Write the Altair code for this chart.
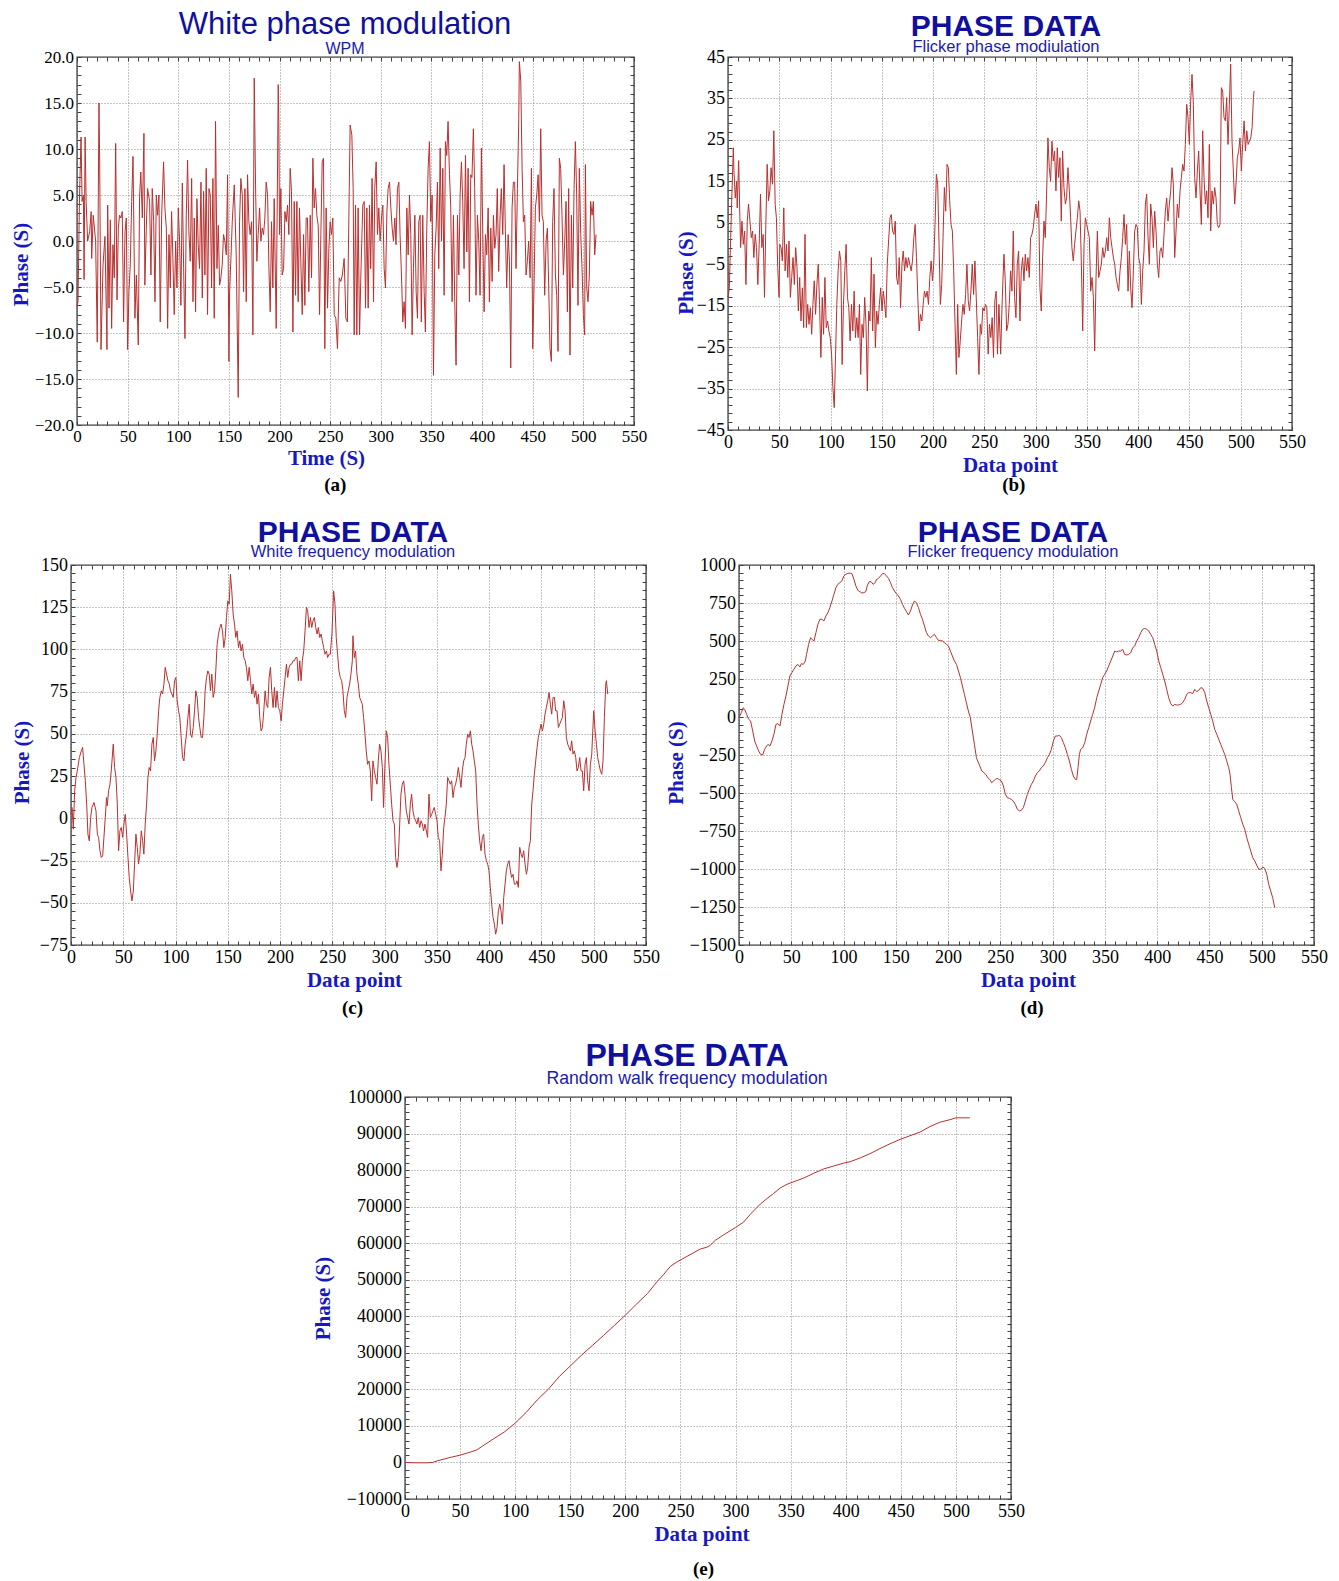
import altair as alt
import pandas as pd

# ---------------- data ----------------
a_x = [0,1,2.5,4,5,6.3,7,8,9,10.5,12.5,14,14.5,16,18.4,20,21.7,22.4,23.7,25.7,27.6,29.6,30.3,31.6,32.9,34.2,35.5,36.8,38.2,39.5,40.8,42,43.4,44.7,46,47.4,48.7,50,51.3,52.6,54,55.3,57.2,58.6,60.5,61.8,63,64.5,66.1,67,68.4,69.7,71.7,73,74.3,75.7,77,78.3,79.6,80.9,82.2,83.6,85.5,86.8,88.2,89.5,90.8,92.1,93.4,94.7,96,97.4,98.7,100,101.3,102.6,104,105.3,106.6,107.9,109.2,110.5,111.8,113.2,114.5,115.8,117.1,118.4,119.7,121,122.4,123.7,125,126.3,127.6,128.9,130.3,131.6,132.9,134.2,135.5,136.8,138.2,139.5,140.8,142.1,143.4,144.7,146,147.4,148.7,150,150.7,152,153.3,155.3,157.2,159.2,160.5,161.8,163.2,164.5,165.8,167.1,168.4,169.7,171,172.4,173.7,175,176.3,177.6,178.9,180.3,181.6,182.9,184.2,185.5,186.8,188.2,189.5,190.8,192.1,193.4,194.7,196.7,198.7,199.3,200,201.3,202.6,204,205.3,206.6,207.9,209.2,210.5,211.8,213.2,214.5,215.8,217.1,218.4,219.7,221,222.4,223.7,225,226.3,227.6,228.9,230.3,231.6,232.9,234.2,235.5,236.8,238.2,239.5,240.8,242.1,243.4,244.7,246,247.4,248.7,250,251.3,252.6,254,255.6,257.2,258.9,260.5,262,263.8,265.5,267,268.8,269.7,271.4,272.7,273.7,275,276.3,277.6,279,280.3,282.2,283.6,284.9,286.2,287.5,288.8,290,291.4,292.8,294,295.4,296.7,298,299.3,300.7,302,303.3,304.6,306,307.2,308.6,309.9,311.2,312.5,313.8,315,316.4,317.8,319,320.4,321.7,323,324.3,325.7,327,328.3,329.6,330.9,332.2,333.6,334.9,336.2,337.5,338.8,340,341.4,342.8,344,345.4,346.7,348,349.3,350.7,352,353.3,354.6,355.9,357.2,358.6,359.9,361.2,362.5,363.8,365.1,366.4,367.8,369,370.4,371.7,373,374.3,375.7,377,378.3,379.6,380.9,382.2,383.6,384.9,386.2,387.5,388.8,390,391.4,392.7,394,395.4,396.7,398,399.3,400.7,402,403.3,404.6,406,407.2,408.6,409.9,411.2,412.5,413.8,415,416.4,417.8,419,420.4,421.7,423,424.3,425.7,427,428.3,429.6,430.9,432.2,433.5,434.9,436.2,436.8,438.2,439.5,440.8,442.1,443.4,444.7,446,447.4,448.7,450,451.3,452.6,454,455.3,456.6,457.9,459.2,460.5,461.8,463.2,464.5,465.8,467.1,468.4,469.7,471,472.4,473.7,475,476.3,477.6,478.9,480.3,481.6,482.9,484.2,485.5,486.8,488.2,489.5,490.8,492.1,493.4,494.7,496,497.4,498.7,500,501.3,502,503.3,504.6,505.9,507.2,508.6,509.9,511.2,512.5]
a_y = [-7.2,-6.6,5,11.3,4.3,5,-4.2,11.3,4.3,0,1,3.2,-1.9,2.8,0,-11,15,8.6,-11.8,-2.6,0.5,-11.8,3.9,-7.3,2.3,-9.5,-0.4,-4,10.6,-6.4,1.4,2.8,2.5,3.2,-8.8,1,2.5,-11.8,-5.5,-2.6,4.3,9.2,-8.4,-3.7,-11.3,4.8,7.5,2.5,11.7,-4.8,1.4,5.7,4.3,-3.7,5.7,2.1,-6.6,5,2.8,5,-8.8,2.8,8.6,3.6,1.4,-9.5,0.7,-5.1,3.2,-1.9,-8,0,-5.1,3.6,0,-7,6.3,-3,-10.6,2.8,8.8,1,-2.2,6.8,-6.6,2.5,-7.7,4.6,-0.4,-3,6.4,-6.2,5.4,-3.7,7.9,-8,5.7,5,-5.1,6.8,-8.4,13,-3,1.7,-4.8,-4,-2.6,0.7,0,-1.5,7.2,-13.1,-5.5,-1.9,2.1,6.1,-1.5,-17,2.1,6.8,5,-5.5,5.7,-6.6,7.2,2.1,0.7,2.1,-10.2,17.7,6.1,-2.2,0.7,3.6,0,1.4,0.7,2.5,6.4,5,-3,-7.7,2.1,-5.1,4.6,-9.5,17,12.6,0.7,5.7,-3.7,-3,3.2,2.1,3.9,0.7,7.9,5.4,-9.9,4.3,-5.9,4.3,-6.6,3.6,-2.2,-8,0.7,-7,2.5,2.5,-5.5,2.8,-4,9,3.6,5.7,2.8,1.7,-8,0.7,8.6,9,-11.7,3.6,-7.3,-0.8,2.1,0.7,2.5,-8,-8.4,-11.7,-4,-4.4,-3.7,-1.9,-8.4,-8.8,5.4,12.6,11.5,5.7,-10.2,3.9,-10.2,3.6,-10.2,-3.7,3.9,4.3,-7.3,3.6,-7.3,3.9,-3,6.8,-6.6,5.7,8.6,0.7,3.6,0,2.5,3.9,-3,-5.1,3.2,5.7,6.4,3.6,1.4,0,2.5,-0.4,5.7,6.4,0.7,-3.7,-8.8,-6.6,-9.5,3.6,-1.5,5,0.7,-10.2,-3,2.8,-5.5,-8.4,2.1,2.8,-8.8,2.8,-5.5,-9.9,1.4,7.9,10.8,2.1,5,-14.6,-1.5,1.4,6.4,-3,10.1,0,7.9,-5.9,10.8,9.3,13,7.2,3.9,-6.6,2.8,-6.6,-13.5,2.8,-3.7,5,8.6,4.3,-3,9.3,-1.2,7.9,-6.6,7.2,6.9,12.2,5.7,-5.9,2.8,0,-5.9,10.1,0.7,-7.7,0.7,-1.5,3.6,-6.6,1.4,-4.4,2.8,-0.8,0.7,5.7,-3.3,2.8,5.7,0.7,8.3,1,-5.1,0.7,-2.2,-13.8,3.6,6.4,6.4,-3,5.7,13.3,19.5,17.4,7.9,2.1,2.8,-3.7,-2.2,0,-4,7.9,-11.7,-4.8,3.6,5,7.2,2.1,12.2,2.8,2.1,-5.9,0,1.4,-5.1,-11.7,-13.1,2.1,5.7,-3.7,-5.9,-12,9,7.9,2.8,-3.7,0,4.3,-7.7,5.7,-12.4,2.8,-5.1,5.7,10.8,5,-7,7.9,0.7,-3,-8,-10.2,8.3,-5.1,-6.6,-3.7,4.3,2.8,4.3,-1.5,0.7]

b_x = [0,1.3,2.6,3.9,5.2,5.8,7.1,8.4,9,10.4,11.6,12.3,13.6,14.9,16.2,17.5,18.8,20,21.4,22.7,24,25.2,26.5,27.8,29.1,30.4,31.7,33,34.3,35.6,36.9,38.2,39.5,40.8,42,43.4,44.7,46,47.2,48.5,49.8,50.5,51.8,53,54.4,55.7,57,58.3,59.5,60.8,62.1,63.4,64.7,66,67.3,68.6,69.9,71.2,72.5,73.8,75.1,76.4,77.7,79,80.3,81.6,82.8,84.1,85.4,86.7,88,89.3,90.6,91.9,93.2,94.5,95.8,97.1,98.4,99.7,101,102.3,103.6,104.9,106.1,107.4,108.7,110,111.3,112.6,113.9,115.2,116.5,117.8,119.1,120.4,121.7,123,124.3,125.6,126.9,128.2,129.4,130.7,132,133.3,134.6,135.9,137.2,138.5,139.8,141.1,142.4,143.7,145,146.3,147.6,148.9,150.2,151.5,152.8,154,155.3,156.6,158,159.2,160.5,161.8,163.1,164.4,165.7,167,168.3,169.6,170.9,172.2,173.5,174.8,176,177.3,178.6,179.9,181.2,182.5,183.8,185.1,186.4,187.7,189,190.3,191.6,192.9,194.2,195.5,196.8,198.1,199.4,200.6,201.9,203.2,204.5,205.8,207.1,208.4,209.7,211,212.3,213.6,214.9,216.2,217.5,218.8,220.1,221.4,222.7,224,225.2,226.5,227.8,229.1,230.4,231.7,233,234.3,235.6,236.9,238.2,239.5,240.8,242.1,243.4,244.7,246,247.2,248.5,249.8,251.1,252.4,253.7,255,256.3,257.6,258.9,260.2,261.5,262.8,264.2,265.9,267.5,269.1,270.4,271.7,273,274.3,275.6,276.9,278.2,279.5,280.8,282.1,283.4,284.7,286,287.3,288.6,289.9,291.2,292.5,293.8,295.1,296.4,297.7,299,300.3,301.6,302.9,304.2,305.5,306.8,308.1,309.4,310.7,312,313.3,314.6,315.9,317.2,318.5,319.8,321.1,322.4,323.7,325,326.3,327.6,329,330.2,331.5,332.9,334.1,335.4,336.7,338,339.3,340.7,342,343.3,344.6,345.9,347.2,348.5,349.8,351.1,352.4,353.7,355,356.3,357.6,358.9,360.2,361.5,362.8,364.1,365.4,366.7,368,369.3,370.6,371.9,373.2,374.5,375.8,377.1,378.4,379.7,381,382.3,383.6,384.9,386.2,387.5,388.8,390.1,391.4,392.7,394,395.3,396.6,397.9,399.2,400.5,401.8,403.1,404.4,405.7,407,408.3,409.6,410.9,412.2,413.5,414.8,416.1,417.4,418.7,420,421.3,422.6,423.9,425.2,426.5,427.8,429.1,430.4,431.7,433,434.3,435.6,436.9,438.2,439.5,440.8,442.1,443.4,444.7,446,447.3,448.6,449.9,451.2,452.5,453.8,455.1,456.4,457.7,459,460.3,461.6,462.9,464.2,465.5,466.8,468.1,469.4,470.7,472,473.3,474.6,475.9,477.2,478.5,479.8,481.1,482.4,483.7,485,486.3,487.6,488.9,490.2,491.5,492.8,494.1,495.4,496.7,498,499.3,500.6,501.9,503.3,504.6,505.9,507.2,508.5,509.8,511.1,512.4,513]
b_y = [-13,-10.7,1.4,12.7,23.1,17.5,11,15,8.6,20,6.2,-1,5.4,-0.2,3,-9.9,5.4,9.5,5.4,1.4,3,-3.4,2.2,-1,-9.9,-0.2,11.9,-1,2.2,-13,4.6,19.1,10.3,12.7,18.3,14.3,27.2,9.5,6.2,-5.8,-13,-0.2,-1,-4.2,8.6,-6.6,-0.2,-8.2,0.6,-13,-8.2,-3.4,-9.9,-1,-5.8,-16.3,-8.2,-18.7,-10.7,-20.3,2.2,-20.3,-14.7,-19.5,-15.5,-21.9,-14.7,-9,-17.1,-9.9,-5,-14.7,-27.5,-13,-21.9,-8.2,-20.3,-18.7,-21.1,-22.7,-26.7,-34.8,-39.6,-26.7,-14.7,-6.6,-1.8,-4.2,-29.2,-14.7,-6.6,-0.2,-13,-15.5,-23.5,-14.7,-21.1,-11.5,-22.7,-17.9,-22.7,-14.7,-31.6,-19.5,-22.7,-13,-19.5,-35.6,-16.3,-18.7,-3.4,-21.1,-7.4,-25.1,-16.3,-19.5,-14.7,-10.7,-16.3,-11.5,-14.7,-17.9,-5,0.6,6.2,7,3,2.2,5.4,-8.2,-9.9,-3.4,-15.5,-5,-1.8,-6.6,-3.4,-5.8,-3.4,-5,-6.6,-4.2,1.4,4.6,-3.4,-13,-21.1,-17.1,-18.7,-14.7,-11.5,-13,-11.5,-14.7,-8.2,-4.2,-9,-5,4.6,16.7,14.3,-0.2,-14.7,-9.9,1.4,13.5,7.8,19.1,18.3,10.3,4.6,3,-6.6,-19.5,-31.6,-14.7,-27.5,-23.5,-18.7,-14.7,-17.1,-12.3,-5,-13.8,-16.3,-11.5,-5,-12.3,-4.2,-13,-22.7,-31.6,-19.5,-21.9,-15.5,-16.3,-14.7,-15.5,-26.7,-19.5,-22.7,-17.9,-27.5,-13.8,-11.5,-26.7,-14.7,-26.7,-13,-2.6,-9,-21.1,-19.5,-14.7,-6.6,-11.5,3,-13,-17.9,-5,-1.8,-18.7,-6.6,-3.4,-9,-2.6,-6.6,-3.4,-8.2,1.4,2.2,3.8,7,9.5,6.2,10.3,-10.7,-16.3,-3.4,5.4,1.4,11.9,25.5,18.3,15,24.7,19.9,22.3,12.7,23.1,15.9,20.7,5.4,22.3,13.5,9.5,11,18.3,12.7,6.2,-1,-4.2,-0.2,3,6.2,10.3,7.8,-5,-21.1,-0.2,6.2,4.6,3,1.4,-11.5,-8.2,-13,-25.9,-8.2,3,-8.2,-6.6,-5,-1,-3.4,-1.8,1.4,-1.8,6.2,1.4,-1,-3.4,-5,-8.2,-9.9,-11.5,-6.6,-3.4,1.4,7,-0.2,4.6,-11.5,-1.8,-10.7,-15.5,-6.6,3,4.6,3.8,-3.4,-5,-14.7,-6.6,-1.8,9.5,11.9,1.4,-5,9.5,6.2,-1,7.8,3,-5,-8.2,-1.8,-1,-3.4,2.2,7.8,11,5.4,9.5,12.7,18.3,14.3,-3.4,3,9.5,6.2,12.7,15.9,19.1,17.5,23.9,33.6,30.4,23.9,34.4,40.8,33.6,15.9,11,17.5,22.3,12.7,4.6,27.2,15.9,9.5,12.7,6.2,23.9,3,12.7,9.5,13.5,11,4.6,3.8,4.6,37.6,36.8,30.4,29.6,35.2,23.9,33.6,43.3,24.7,17.5,9.5,14.3,20.7,22.3,25.5,17.5,23.9,29.6,22.3,27.2,23.9,24.7,25.5,28,35.2,36.8]

c_x = [0,1,2.2,3.5,4.8,6,8,9.9,11.1,12.4,13.7,15,16.2,17.5,18.8,20,22,23.9,25.2,26.4,27.7,29,30.3,31.5,32.8,34,34.7,36,37.3,38.5,40.4,41.7,43,44.3,45.5,46.8,48.1,49.4,50.6,51.9,53.2,54.5,55.7,57,58.3,59.6,60.8,62.1,63.4,64.6,65.9,67.2,68.5,69.7,71,72.3,73.6,74.8,76.1,77.4,78.7,79.9,81.2,82.5,83.8,85,86.3,87.6,88.9,90.1,91.4,92.7,94,95.2,96.5,97.8,99,100.3,101.6,102.9,104.1,105.4,106.7,108,109.2,110.5,111.8,113.1,114.3,115.6,116.9,118.2,119.4,120.7,122,123.2,124.5,125.8,127.1,128.3,129.6,130.9,132.2,133.4,134.7,136,137.3,138.5,139.8,141.1,142.4,143.6,144.9,146.2,147.5,148.7,150,151.3,152.5,153.8,155.1,156.4,157.6,158.9,160.2,161.5,162.7,164,165.3,166.6,167.8,169.1,170.4,171.7,172.9,174.2,175.5,176.8,178,179.3,180.6,181.8,183.1,184.4,185.7,186.9,188.2,189.5,190.8,192,193.3,194.6,195.9,197.1,198.4,199.7,201,202.2,203.5,204.8,206.1,207.3,208.6,209.9,211.1,212.4,213.7,215,216.2,217.5,218.8,220.1,221.3,222.6,223.9,225.2,226.4,227.7,229,230.3,231.5,232.8,234.1,235.4,236.6,237.9,239.2,240.4,241.7,243,244.3,245.5,246.8,248,249.6,251.2,252.5,253.7,255,256.3,257.6,258.9,260.1,261.4,262.7,264,265.2,266.5,267.8,269.1,269.7,271,272.2,273.5,274.8,276.1,277.4,278.6,279.9,281.2,282.4,283.7,285,286.3,287.6,288.8,290.1,291.4,292.7,293.9,295.2,296.5,297.8,299,300.3,301.6,302.9,304.1,305.4,306.7,308,309.3,310.5,311.8,313.1,314.4,315.6,316.9,318.2,319.5,320.7,322,323.3,324.6,325.8,327.1,328.4,329.7,330.9,332.2,333.5,334.8,336,337.3,338.6,339.9,341.1,342.4,343.7,345,346.2,347.5,348.8,350.1,351.3,352.6,353.9,355.2,356.5,357.7,359,360.3,361.6,362.8,364.1,365.4,366.7,367.9,369.2,370.5,371.8,373,374.3,375.6,376.9,378.1,379.4,380.7,382,383.3,384.5,385.8,387.1,388.4,389.6,390.9,392.2,393.5,394.7,396,397.3,398.6,399.8,401.1,402.4,403.7,405,406.2,407.5,408.8,410.1,411.3,412.6,413.9,415.2,416.4,417.7,419,420.3,421.5,422.8,424.1,425.4,426.6,427.9,429.2,430.5,431.7,433,434.3,435.6,436.8,438.1,439.4,440.7,441.9,443.2,444.5,445.8,447,448.3,449.6,450.9,452.2,453.4,454.7,456,457.3,458.5,459.8,461.1,462.4,463.6,464.9,466.2,467.5,468.7,470,471.3,472.6,473.8,475.1,476.4,477.7,478.9,480.2,481.5,482.8,484,485.3,486.6,487.9,489.1,490.4,491.7,493,494.2,495.5,496.8,498.1,499.4,500,501.3,502.6,503.8,505.1,506.4,507.7,508.9,510.2,511.5,512.1,513.4]
c_y = [2.4,6.4,-6.4,16.3,24.2,28.1,36,40,42,32,22.2,8.4,-9.4,-13.3,0.5,6.4,9.4,4.4,-9.4,-11.3,-19.2,-23.2,-22.2,-11.3,0.5,12.3,7.4,16.3,20.2,28.1,43.9,30.1,24.2,8.4,-19.2,-7.4,-5.4,-11.3,-3.4,2.4,-9.4,-23.2,-35,-43,-48.9,-43,-27.1,-9.4,-17.2,-27.1,-21.2,-7.4,-13.3,-21.2,-3.4,8.4,24.2,30.1,28.1,43.9,47.9,34,40,49.8,63.7,71.6,75.5,73.6,79.5,89.4,85.4,81.5,79.5,75.5,73.6,71.6,81.5,83.4,69.6,63.7,59.7,47.9,36,34,43.9,49.8,59.7,67.6,49.8,47.9,53.8,63.7,75.5,71.6,59.7,53.8,47.9,47.9,59.7,75.5,83.4,87.3,85.4,75.5,85.4,71.6,75.5,87.3,103.1,109.1,113,115,111,101.1,107.1,118.9,128.8,126.8,144.6,134.7,120.9,115,107.1,111,101.1,105.1,99.1,103.1,95.2,93.3,89.4,81.5,89.4,81.5,73.6,79.5,71.6,75.5,67.6,73.6,59.7,51.8,53.8,63.7,75.5,67.6,65.6,83.4,89.4,75.5,65.6,77.5,65.6,75.5,65.6,63.7,57.7,67.6,75.5,83.4,91.3,83.4,89.4,91.3,91.3,93.3,93.3,95.2,95.2,81.5,93.3,81.5,93.3,99.1,111,124.9,122.9,113,118.9,113,117,118.9,113,109.1,113,107.1,109.1,105.1,101.1,97.2,99.1,95.2,97.2,97.2,109.1,134.7,126.8,107.1,97.2,87.3,83.4,81.5,75.5,63.7,59.7,71.6,75.5,79.5,85.4,93.3,108.1,95.2,99.1,85.4,79.5,71.6,69.6,67.6,59.7,49.8,40,32,34,28.1,10.4,34,28.1,24.2,20.2,34,43.9,40,30.1,6.4,32,51.8,47.9,32,20.2,8.4,-1.4,-3.4,-23.2,-29.1,-23.2,-3.4,14.3,20.2,22.2,14.3,4.4,0.5,-3.4,8.4,14.3,4.4,0.5,-1.4,-3.4,0.5,-5.4,-1.4,-3.4,-7.4,-3.4,-7.4,-11.3,14.3,0.5,2.4,4.4,6.4,2.4,-1.4,-11.3,-13.3,-31.1,-21.2,-5.4,0.5,8.4,24.2,22.2,20.2,22.2,12.3,18.3,20.2,24.2,30.1,24.2,18.3,28.1,34,36,43.9,49.8,47.9,51.8,43.9,40,34,28.1,8.4,-3.4,-13.3,-19.2,-11.3,-9.4,-21.2,-25.1,-27.1,-31.1,-40.9,-50.8,-58.7,-62.7,-68.6,-64.7,-54.8,-50.8,-54.8,-62.7,-46.9,-39,-31.1,-27.1,-25.1,-31.1,-35,-33.1,-39,-39,-37,-40.9,-17.2,-21.2,-23.2,-19.2,-27.1,-33.1,-29.1,-17.2,-13.3,8.4,16.3,26.1,34,41.9,47.9,51.8,55.8,51.8,55.8,61.7,65.6,69.6,74.5,67.6,61.7,71.6,71.6,63.7,63.7,53.8,55.8,57.7,59.7,69.6,63.7,47.9,43.9,42,40,45.9,38,40,36,28.1,30.1,36,28.1,28.1,16.3,32,36,22.2,16.3,32,38,55.8,63.7,51.8,43.9,36,32,28.1,26.1,34,59.7,79.5,81.5,73.6]

d_x = [0,2.2,4.1,5.4,7.3,9.2,11.1,13.1,15,16.9,18.8,20.7,22.6,24.5,26.4,27.7,29.6,31.5,33.4,35.4,37.3,39.2,41.1,43,44.9,46.8,48.7,50.6,52.5,54.5,56.4,58.3,59.6,61.5,63.4,64.6,66.6,68.5,69.7,71.7,73.6,75.5,77.4,79.3,81.2,83.1,85,86.9,88.9,90.8,92.7,94.6,96.5,98.4,100.3,102.2,104.1,106.1,108,109.9,111.8,113.7,115.6,117.5,119.4,121.3,122.6,124.5,126.4,128.3,130.3,131.5,133.4,135.4,137.3,139.2,141.1,143,144.9,146.8,148.7,150.6,152.5,154.5,156.4,158.3,160.2,162.1,164,165.9,167.8,169.7,171.7,173.6,175.5,177.4,179.3,181.2,183.1,185,186.9,188.9,190.8,192.7,194.6,196.5,198.4,200.3,202.2,204.1,206.1,208,209.9,211.8,213.7,215.6,217.5,219.4,221.3,223.2,225.2,227.1,228.3,230.3,232.2,234.1,236,237.9,239.8,241.7,243.6,245.2,247.1,249,251,252.9,254.8,256.7,258.6,260.5,262.4,264.3,266.3,268.2,270.1,272,273.9,275.8,277.7,279.7,281.6,283.5,285.4,287.3,289.2,291.1,293,295,296.9,298.8,300.7,302.6,304.5,306.4,308.4,310.3,312.2,314.1,316,317.9,319.8,321.7,323,324.3,325.6,326.8,328.8,330.7,332.6,334.5,336.4,338.3,340.2,342.2,344.1,346,347.9,349.8,351.7,353.6,355.6,357.5,359.4,361.3,363.2,365.1,367,368.9,370.9,372.8,374.7,376.6,378.5,380.4,382.3,384.3,386.2,388.1,390,391.9,393.8,395.7,397.6,399.6,401.5,403.4,405.3,407.2,409.1,411,413,414.9,416.8,418.7,420.6,422.5,424.4,426.3,428.3,430.2,432.1,434,435.9,437.8,439.7,441.7,443.6,445.5,447.4,449.3,451.2,453.1,455,457,458.9,460.8,462.7,464.6,466.5,468.4,469.7,471,472.3,474.2,476.1,478,479.9,481.9,483.8,485.7,487.6,489.5,491.4,493.3,495.2,497.1,499,501,502.9,504.8,506.7,508.6,510.5,512.4]
d_y = [-4,28,61,50,18,-15,-26,-92,-158,-191,-224,-246,-250,-213,-191,-180,-191,-158,-114,-48,-44,-59,18,83,138,204,270,292,314,336,346,329,351,346,368,412,478,522,511,500,555,610,643,643,632,664,686,719,763,807,851,873,884,895,928,939,945,947,943,906,862,833,825,816,818,825,862,890,890,873,884,904,912,928,943,943,928,912,884,851,829,811,796,774,741,715,693,671,697,737,763,752,719,675,643,599,555,533,522,533,544,522,504,504,500,489,478,467,434,401,368,346,303,259,204,149,94,39,-4,-92,-180,-268,-289,-322,-355,-366,-377,-399,-410,-432,-421,-410,-404,-412,-421,-454,-509,-531,-535,-542,-553,-575,-607,-618,-614,-596,-553,-509,-476,-443,-421,-388,-366,-355,-333,-322,-300,-268,-246,-213,-158,-125,-125,-121,-136,-169,-202,-246,-289,-344,-388,-410,-412,-333,-246,-213,-202,-169,-114,-70,-26,18,61,127,171,215,259,281,303,336,368,401,434,428,434,434,445,412,408,412,423,456,467,500,522,555,577,583,577,566,544,522,478,434,368,325,281,237,182,127,88,72,83,79,79,83,94,116,149,160,160,154,182,167,175,193,189,160,105,61,18,-26,-81,-114,-147,-180,-213,-246,-289,-333,-377,-465,-542,-557,-575,-618,-662,-706,-739,-794,-838,-882,-925,-947,-974,-1002,-1002,-987,-996,-1035,-1101,-1145,-1189,-1254]

e_x = [0,10,20,25,30,40,50,60,65,70,80,90,100,110,120,130,140,150,160,170,180,190,200,210,220,228.9,234.9,241,247,250,256,262,268,274,277,281.7,289.3,300,307.4,313.4,322.5,328.5,334.5,340.6,346.6,352.7,361.7,370.8,379.8,388.9,397.9,404,413,422,431.2,440.2,449.3,458.3,467.4,476.4,485.5,494.6,500,506.6,512.7]
e_y = [0,-100,-100,0,500,1300,2000,2900,3400,4400,6400,8300,10750,13700,17100,20000,23500,26400,29300,32000,34700,37500,40300,43300,46200,49500,51500,53700,54900,55400,56400,57400,58400,58900,59400,60800,62300,64300,65800,67900,70700,72200,73600,75100,76100,76800,77800,79100,80300,81100,81900,82300,83300,84500,85900,87200,88400,89400,90400,91900,93100,93800,94300,94300,94300]

x_tick_values = list(range(0, 551, 10))

# ---------------- styling ----------------
RED = '#b8302f'
SERIF = 'Liberation Serif'
SANS = 'Liberation Sans'
NAVY = '#10109c'
SUBBLUE = '#1c1caa'
AXBLUE = '#1818c0'
TICK = '#404040'


def spacer(w, h, letter=None, dx=0):
    c = alt.Chart(alt.Data(values=[])).mark_point(opacity=0).encode(
        x=alt.value(0), y=alt.value(0))
    props = dict(width=w, height=h, view=alt.ViewBackground(stroke='transparent'))
    if letter:
        props['title'] = alt.TitleParams(text=letter, orient='bottom', font=SERIF, fontSize=19,
                                         fontWeight='bold', color='black', anchor='middle',
                                         frame='group', dx=dx, offset=0)
    return c.properties(**props)


def panel(xs, ys, w, h, ydom, ymaj, ymin, yfmt, lsize,
          ttl, ttl_size, ttl_weight, sub, sub_size, ttl_dx, ttl_offset, sub_pad,
          xtitle, xtitle_x, ytitle_y, ytitle_pad):
    df = pd.DataFrame({'x': xs, 'y': ys})
    y_tick_values = list(range(ydom[0], ydom[1] + 1, ymin))
    xcond = "datum.value % 50 === 0"
    ycond = f"(datum.value - ({ydom[0]})) % {ymaj} === 0"
    xsc = alt.Scale(domain=[0, 550], nice=False, zero=False)
    ysc = alt.Scale(domain=ydom, nice=False, zero=False)
    common = dict(domain=False, ticks=True, tickSize=4, tickColor=TICK, tickWidth=1,
                  offset=-4, labelOverlap=False, labelFlush=False,
                  labelFont=SERIF, labelFontSize=lsize, labelColor='black',
                  titleFont=SERIF, titleFontSize=21, titleFontWeight='bold',
                  titleColor=AXBLUE, gridColor='#8c8c8c', gridDash=[1, 2], gridWidth=1)
    xaxis = alt.Axis(values=x_tick_values, format='d',
                     labelExpr=f"{xcond} ? datum.label : ''",
                     gridOpacity={'condition': {'test': xcond, 'value': 1}, 'value': 0},
                     labelPadding=3.5, title=xtitle, titlePadding=3, titleX=xtitle_x,
                     **common)
    yaxis = alt.Axis(values=y_tick_values, format=yfmt,
                     labelExpr=f"{ycond} ? datum.label : ''",
                     gridOpacity={'condition': {'test': ycond, 'value': 1}, 'value': 0},
                     labelPadding=3.5, title='Phase (S)', titlePadding=ytitle_pad,
                     titleY=ytitle_y, **common)
    line = alt.Chart(df).mark_line(color=RED, strokeWidth=1).encode(
        x=alt.X('x:Q', scale=xsc, axis=xaxis),
        y=alt.Y('y:Q', scale=ysc, axis=yaxis),
    )
    tk = dict(labels=False, grid=False, domain=False, ticks=True, tickSize=4,
              tickColor=TICK, tickWidth=1, offset=-4, title=None)
    ticks = alt.Chart(df).mark_line(strokeOpacity=0).encode(
        x=alt.X('x:Q', scale=xsc, axis=alt.Axis(orient='top', values=x_tick_values, **tk)),
        y=alt.Y('y:Q', scale=ysc, axis=alt.Axis(orient='right', values=y_tick_values, **tk)),
    )
    title = alt.TitleParams(text=ttl, subtitle=sub, font=SANS, fontSize=ttl_size,
                            fontWeight=ttl_weight, color=NAVY, subtitleFont=SANS,
                            subtitleFontSize=sub_size, subtitleColor=SUBBLUE,
                            subtitlePadding=sub_pad, anchor='middle', frame='group',
                            dx=ttl_dx, offset=ttl_offset)
    return alt.layer(line, ticks).resolve_axis(x='independent', y='independent').properties(
        width=w, height=h, title=title)


pa = panel(a_x, a_y, 557, 368, [-20, 20], 5, 1, '.1f', 17,
           'White phase modulation', 31, 'normal', 'WPM', 16, -10.5, -9.5, -0.6,
           'Time (S)', 249, 207, 3)
pb = panel(b_x, b_y, 564, 373, [-45, 45], 10, 2, 'd', 18,
           'PHASE DATA', 30, 'bold', 'Flicker phase modiulation', 16.5, -4, -7, -3.5,
           'Data point', 282, 215.5, 0)
pc = panel(c_x, c_y, 575, 380, [-75, 150], 25, 5, 'd', 18,
           'PHASE DATA', 30, 'bold', 'White frequency modulation', 16.5, -5.5, -4.5, -3.5,
           'Data point', 283, 197, 6.5)
pdd = panel(d_x, d_y, 575, 380, [-1500, 1000], 250, 50, 'd', 18,
            'PHASE DATA', 30, 'bold', 'Flicker frequency modulation', 16.5, -13.5, -4.5, -3.5,
            'Data point', 289, 197.5, 2.5)
pe = panel(e_x, e_y, 606, 402, [-10000, 100000], 10000, 2000, 'd', 18,
           'PHASE DATA', 32, 'bold', 'Random walk frequency modulation', 17.7, -21, -1, -2.7,
           'Data point', 296.5, 201, 13)

row1 = alt.hconcat(spacer(68, 458), pa, spacer(94, 419, '(a)', -345.7), pb,
                   spacer(1, 419, '(b)', -278.7), spacing=0, bounds='flush')
row2 = alt.hconcat(spacer(62, 473), pc, spacer(93, 434, '(c)', -340), pdd,
                   spacer(1, 434, '(d)', -282.5), spacing=0, bounds='flush')
row3 = alt.hconcat(spacer(396, 1), pe, spacer(1, 463, '(e)', -308),
                   spacing=0, bounds='flush')

chart = alt.vconcat(row1, row2, row3, spacing=0).properties(
    padding=0).configure_view(stroke='#3a3a3a', strokeWidth=1.4)

chart.save('out.html', embed_options={'renderer': 'svg', 'actions': False})
